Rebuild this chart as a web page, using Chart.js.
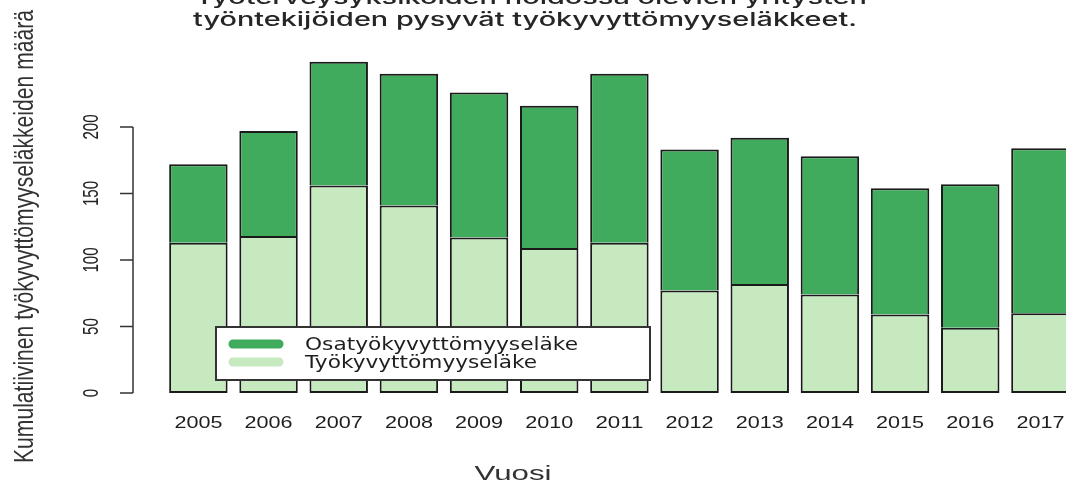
<!DOCTYPE html>
<html lang="fi">
<head>
<meta charset="utf-8">
<title>Työkyvyttömyyseläkkeet</title>
<script src="https://cdn.jsdelivr.net/npm/chart.js@4/dist/chart.umd.min.js"></script>
<style>
  html, body { margin: 0; padding: 0; background: #fff; }
  #wrap { width: 1066px; height: 481px; overflow: hidden; position: relative; }
  #chart { display: block; }
</style>
</head>
<body>
<div id="wrap"><canvas id="chart" width="1090" height="481"></canvas></div>
<script>
var vuodet = ['2005', '2006', '2007', '2008', '2009', '2010', '2011', '2012', '2013', '2014', '2015', '2016', '2017'];
var tyokyvyttomyys = [113, 118, 156, 141, 117, 109, 113, 77, 82, 74, 59, 49, 60];
var osatyokyvyttomyys = [59, 79, 93, 99, 109, 107, 127, 106, 110, 104, 95, 108, 124];
var yTicks = [0, 50, 100, 150, 200];
var otsikko = ['Työterveysyksiköiden hoidossa olevien yritysten', 'työntekijöiden pysyvät työkyvyttömyyseläkkeet.'];
var xOtsikko = 'Vuosi';
var yOtsikko = 'Kumulatiivinen työkyvyttömyyseläkkeiden määrä';

(function () {
    'use strict';

    // text squeezed/stretched to a given width (the picture is stretched sideways)
    function fitText(ctx, text, x, y, width, perp, angle) {
        var w = ctx.measureText(text).width;
        ctx.save();
        ctx.translate(x, y);
        if (angle) {
            ctx.rotate(angle);
        }
        ctx.scale(width / w, perp || 1);
        ctx.fillText(text, 0, 0);
        ctx.restore();
    }

    var decor = {
        id: 'decor',
        afterDraw: function (chart) {
            var ctx = chart.ctx, x = chart.scales.x, y = chart.scales.y, i, py;

            ctx.save();
            ctx.fillStyle = '#262626';
            ctx.textAlign = 'center';

            // title
            ctx.font = '500 18px "Inter"';
            ctx.textBaseline = 'alphabetic';
            fitText(ctx, otsikko[0], 531, 4, 672, 1.05);
            fitText(ctx, otsikko[1], 525, 26, 664, 1.05);

            // x labels
            ctx.fillStyle = '#1e1e1e';
            ctx.font = '17px "Liberation Sans"';
            ctx.textBaseline = 'middle';
            for (i = 0; i < vuodet.length; i++) {
                fitText(ctx, vuodet[i], x.getPixelForValue(i), 423, 48);
            }

            // x title
            ctx.fillStyle = '#333';
            ctx.font = '20px "Liberation Sans"';
            ctx.textBaseline = 'alphabetic';
            fitText(ctx, xOtsikko, 513, 480, 77);

            // y axis
            ctx.strokeStyle = '#333';
            ctx.lineWidth = 1.5;
            ctx.beginPath();
            ctx.moveTo(133, y.getPixelForValue(yTicks[0]));
            ctx.lineTo(133, y.getPixelForValue(yTicks[yTicks.length - 1]));
            for (i = 0; i < yTicks.length; i++) {
                py = y.getPixelForValue(yTicks[i]);
                ctx.moveTo(120, py);
                ctx.lineTo(133, py);
            }
            ctx.stroke();

            ctx.fillStyle = '#222';
            ctx.font = '16px "Liberation Sans"';
            ctx.textBaseline = 'middle';
            for (i = 0; i < yTicks.length; i++) {
                py = y.getPixelForValue(yTicks[i]);
                fitText(ctx, String(yTicks[i]), 92, py, String(yTicks[i]).length * 8.4, 1.35, -Math.PI / 2);
            }

            // y title
            ctx.fillStyle = '#333';
            ctx.font = '21px "Liberation Sans"';
            ctx.textBaseline = 'alphabetic';
            fitText(ctx, yOtsikko, 33, 236.5, 453, 1.3, -Math.PI / 2);

            // legend
            ctx.fillStyle = '#fff';
            ctx.fillRect(216, 327, 434, 53);
            ctx.strokeStyle = '#333';
            ctx.lineWidth = 2;
            ctx.strokeRect(216, 327, 434, 53);

            var items = chart.data.datasets.slice().reverse(), widths = [273, 232];
            ctx.textAlign = 'left';
            ctx.textBaseline = 'middle';
            ctx.font = '18px "DejaVu Sans"';
            ctx.lineCap = 'round';
            ctx.lineWidth = 9;
            for (i = 0; i < items.length; i++) {
                py = 344 + i * 18;
                ctx.strokeStyle = items[i].backgroundColor;
                ctx.beginPath();
                ctx.moveTo(233, py);
                ctx.lineTo(279, py);
                ctx.stroke();
                ctx.fillStyle = '#1e1e1e';
                fitText(ctx, items[i].label, 305, py + 1, widths[i], 1);
            }
            ctx.restore();
        }
    };

    var ctx = document.getElementById('chart').getContext('2d');
    var chart = new Chart(ctx, {
        type: 'bar',
        data: {
            labels: vuodet,
            datasets: [{
                label: 'Työkyvyttömyyseläke',
                data: tyokyvyttomyys,
                backgroundColor: '#C7E9C0',
                borderColor: '#1a1a1a',
                borderWidth: 2,
                borderSkipped: false
            }, {
                label: 'Osatyökyvyttömyyseläke',
                data: osatyokyvyttomyys,
                backgroundColor: '#41AB5D',
                borderColor: '#1a1a1a',
                borderWidth: 2,
                borderSkipped: 'start'
            }]
        },
        options: {
            responsive: false,
            animation: false,
            devicePixelRatio: 1,
            layout: { padding: { left: 163.3, right: 14.5, top: 60.5, bottom: 88 } },
            barPercentage: 0.833,
            categoryPercentage: 1,
            scales: {
                x: { stacked: true, display: false },
                y: { stacked: true, display: false, min: 0, max: 250 }
            },
            plugins: {
                legend: { display: false },
                tooltip: { enabled: false }
            }
        },
        plugins: [decor]
    });
})();
</script>
</body>
</html>
